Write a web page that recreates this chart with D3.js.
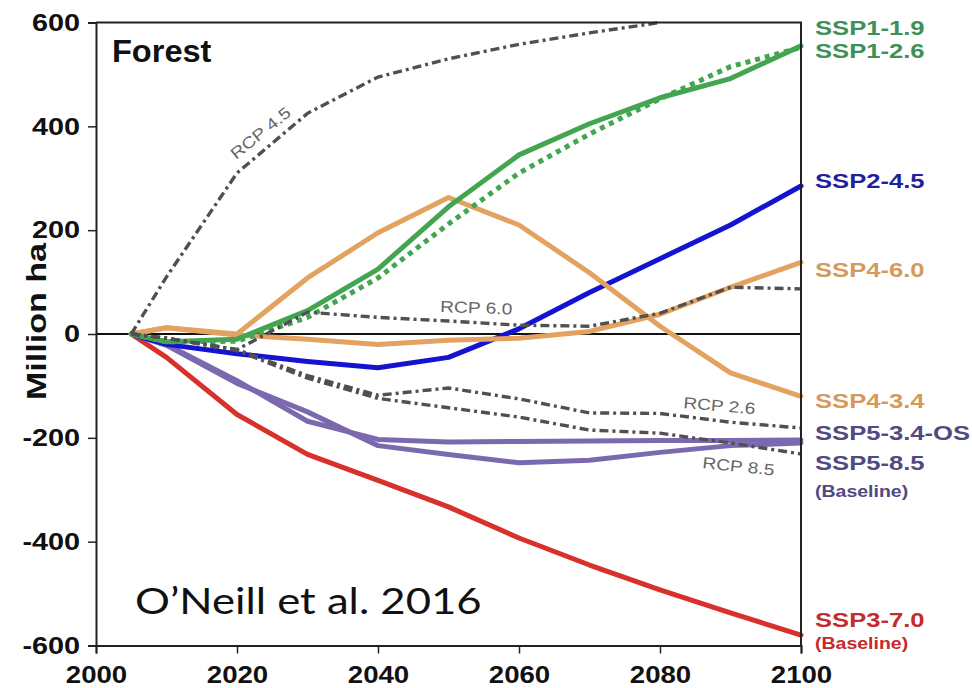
<!DOCTYPE html>
<html>
<head>
<meta charset="utf-8">
<script src="https://cdn.jsdelivr.net/npm/d3@7"></script>
<style>
  html, body { margin: 0; padding: 0; background: #fff; }
  svg { display: block; }
</style>
</head>
<body>
<svg id="chart" width="972" height="688"></svg>
<script>
// Forest area change relative to 2005 (million ha), SSP scenarios vs. RCP marker runs
const years = [2005, 2010, 2020, 2030, 2040, 2050, 2060, 2070, 2080, 2090, 2100];

const ssp119 = [0, -15, -10, 45, 125, 245, 345, 405, 455, 492, 555];
const ssp126 = [0, -15, -14, 32, 108, 212, 310, 385, 453, 515, 552];
const ssp245 = [0, -20, -38, -53, -65, -45, 10, 80, 145, 210, 285];
const ssp460 = [0, 12, -2, -10, -20, -12, -8, 5, 38, 90, 138];
const ssp434 = [0, 12, 0, 108, 195, 263, 210, 118, 15, -75, -120];
const ssp534os = [0, -20, -90, -168, -203, -208, -207, -206, -205, -205, -204];
const ssp585 = [0, -22, -95, -150, -215, -232, -248, -243, -228, -215, -210];
const ssp370 = [0, -45, -155, -232, -282, -333, -393, -445, -493, -537, -580];

// RCP reference runs (RCP 4.5 leaves the axis range at 2080)
const rcp45 = [0, 110, 310, 425, 495, 530, 558, 580, 600];
const rcp60 = [0, -8, -30, 42, 32, 25, 17, 15, 40, 90, 87];
const rcp26 = [0, -8, -30, -80, -118, -104, -125, -152, -153, -170, -181];
const rcp85 = [0, -8, -32, -85, -124, -142, -160, -185, -191, -210, -231];

const xTicks = [2000, 2020, 2040, 2060, 2080, 2100];
const yTicks = [600, 400, 200, 0, -200, -400, -600];

const endLabels = [
  { text: "SSP1-1.9", y: 35, color: "#3d9056", size: 21 },
  { text: "SSP1-2.6", y: 58, color: "#3d9056", size: 21 },
  { text: "SSP2-4.5", y: 188, color: "#1f1fa0", size: 21 },
  { text: "SSP4-6.0", y: 277, color: "#d49a5c", size: 21 },
  { text: "SSP4-3.4", y: 408, color: "#d49a5c", size: 21 },
  { text: "SSP5-3.4-OS", y: 440, color: "#4f4a82", size: 21 },
  { text: "SSP5-8.5", y: 470, color: "#4f4a82", size: 21 },
  { text: "(Baseline)", y: 497, color: "#4f4a82", size: 16 },
  { text: "SSP3-7.0", y: 627, color: "#c42a2e", size: 21 },
  { text: "(Baseline)", y: 649, color: "#c42a2e", size: 16 }
];

const M = { left: 96, right: 801, top: 22.5, bottom: 645.5 };
const stretch = 1.2;

const svg = d3.select("#chart");
const x = d3.scaleLinear().domain([2000, 2100]).range([M.left, M.right]);
const y = d3.scaleLinear().domain([-600, 600]).range([M.bottom, M.top]);

const line = d3.line().x(d => x(d[0])).y(d => y(d[1]));
const pairs = (vals) => vals.map((v, i) => [years[i], v]);

const plot = svg.append("g");

// zero line
plot.append("line")
  .attr("x1", x(2000)).attr("x2", x(2100))
  .attr("y1", y(0)).attr("y2", y(0))
  .attr("stroke", "#111").attr("stroke-width", 2);

// SSP scenario lines
const sspSeries = [
  { vals: ssp370, color: "#d8302a" },
  { vals: ssp534os, color: "#7b69b0" },
  { vals: ssp585, color: "#7b69b0" },
  { vals: ssp245, color: "#1414d0" },
  { vals: ssp460, color: "#e3a260" },
  { vals: ssp434, color: "#e3a260" },
  { vals: ssp119, color: "#43a550" },
  { vals: ssp126, color: "#43a550", dash: "5,5" }
];
sspSeries.forEach(s => {
  plot.append("path")
    .datum(pairs(s.vals))
    .attr("d", line)
    .attr("fill", "none")
    .attr("stroke", s.color)
    .attr("stroke-width", 5)
    .attr("stroke-linejoin", "round")
    .attr("stroke-linecap", s.dash ? "butt" : "round")
    .attr("stroke-dasharray", s.dash || null);
});

// RCP dash-dot lines
[rcp45, rcp60, rcp26, rcp85].forEach(vals => {
  plot.append("path")
    .datum(pairs(vals))
    .attr("d", line)
    .attr("fill", "none")
    .attr("stroke", "#505050")
    .attr("stroke-width", 3.4)
    .attr("stroke-dasharray", "9,4,3,4");
});

// frame: top and right edges
svg.append("path")
  .attr("d", `M${M.left},${M.top}H${M.right}V${M.bottom}`)
  .attr("fill", "none").attr("stroke", "#222").attr("stroke-width", 2);

// axes
const yAxis = d3.axisLeft(y).tickValues(yTicks).tickSize(8).tickPadding(8)
  .tickFormat(d => String(d));
const gy = svg.append("g").attr("transform", `translate(${M.left},0)`).call(yAxis);
gy.select(".domain").attr("stroke", "#222").attr("stroke-width", 2);
gy.selectAll(".tick line").attr("stroke", "#222").attr("stroke-width", 1.5);
gy.selectAll(".tick text")
  .attr("x", -16 / stretch)
  .attr("transform", `scale(${stretch},1)`)
  .attr("fill", "#111")
  .style("font", "bold 24px 'Liberation Sans', Arial, sans-serif");

const xAxis = d3.axisBottom(x).tickValues(xTicks).tickSize(8)
  .tickFormat(d => String(d));
const gx = svg.append("g").attr("transform", `translate(0,${M.bottom})`).call(xAxis);
gx.select(".domain").attr("stroke", "#222").attr("stroke-width", 2);
gx.selectAll(".tick line").attr("stroke", "#222").attr("stroke-width", 1.5);
gx.selectAll(".tick text")
  .attr("y", 38).attr("dy", 0)
  .attr("transform", `scale(${stretch},1)`)
  .attr("fill", "#111")
  .style("font", "bold 23px 'Liberation Sans', Arial, sans-serif");

// text helper: horizontally widened glyphs like the rest of the figure
function label(txt, px, py, opts) {
  const o = Object.assign({ rot: 0, sx: stretch, size: 15, weight: "normal", color: "#111",
    family: "'Liberation Sans', Arial, sans-serif" }, opts);
  return svg.append("text")
    .attr("transform", `translate(${px},${py}) rotate(${o.rot}) scale(${o.sx},1)`)
    .attr("fill", o.color)
    .style("font-family", o.family)
    .style("font-size", o.size + "px")
    .style("font-weight", o.weight)
    .text(txt);
}

label("Forest", 112, 62, { size: 31, weight: "bold", sx: 1.05 });

// y-axis title
svg.append("text")
  .attr("transform", `translate(46,400) rotate(-90)`)
  .attr("textLength", 157)
  .attr("lengthAdjust", "spacingAndGlyphs")
  .attr("fill", "#111")
  .style("font", "bold 27px 'Liberation Sans', Arial, sans-serif")
  .text("Million ha");

// RCP annotations
label("RCP 4.5", 236, 160, { rot: -39, color: "#666", size: 16 });
label("RCP 6.0", 440, 312, { rot: 2, color: "#666", size: 16 });
label("RCP 2.6", 683, 408, { rot: 5, color: "#666", size: 16 });
label("RCP 8.5", 702, 468, { rot: 6, color: "#666", size: 16 });

// scenario names at the right edge
endLabels.forEach(d => {
  label(d.text, 815, d.y, { size: d.size, weight: "bold", color: d.color, sx: 1.22 });
});

// source note
label("O\u2019Neill et al. 2016", 135, 614, { size: 37, sx: 1.18, family: "Lato, 'Open Sans', sans-serif", color: "#111" });
</script>
</body>
</html>
